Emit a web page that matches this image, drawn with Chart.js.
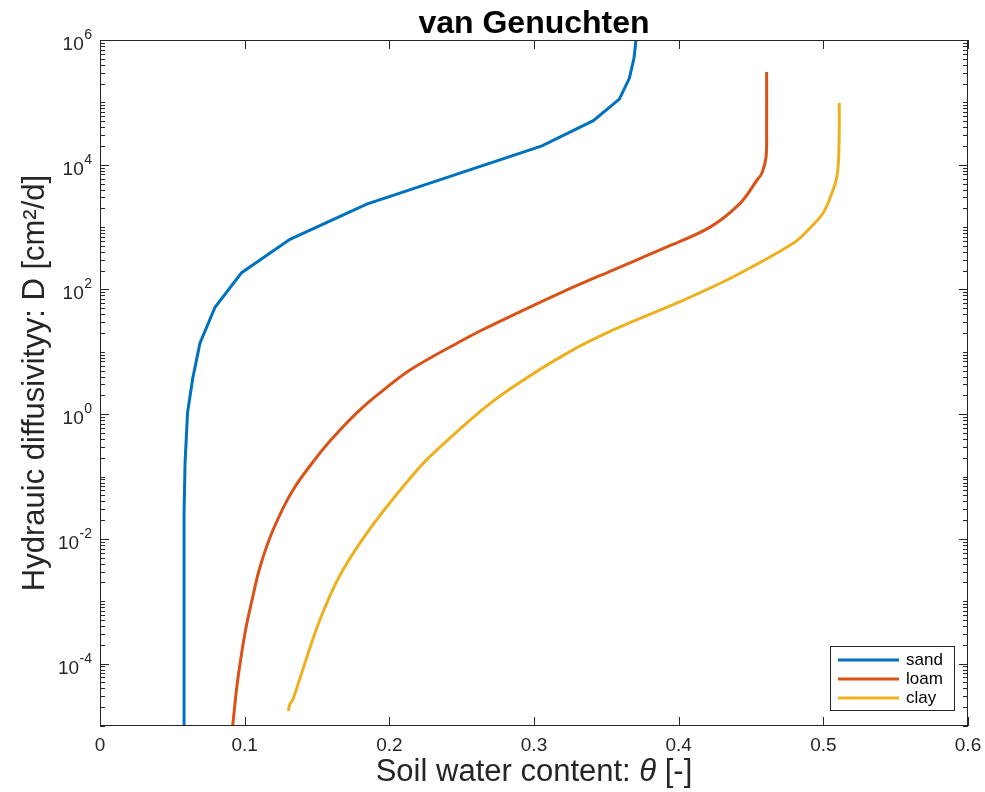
<!DOCTYPE html>
<html>
<head>
<meta charset="utf-8">
<title>van Genuchten</title>
<script src="https://cdn.jsdelivr.net/npm/chart.js@4.4.1/dist/chart.umd.min.js"></script>
<style>
	html, body { margin: 0; padding: 0; background: #fff; }
	#wrap { width: 985px; height: 792px; }
</style>
</head>
<body>
<div id="wrap"><canvas id="vgChart" width="985" height="792"></canvas></div>
<script>
// values
let sandTheta = [0.0581, 0.0581, 0.0581, 0.0588, 0.0605, 0.0641, 0.0691, 0.0795, 0.0979, 0.1313, 0.1844, 0.3055, 0.3410, 0.3590, 0.3659, 0.3691, 0.3705];
let sandD = [1e-5, 3.5e-4, 2.6e-2, 0.166, 1.05, 3.76, 13.7, 51.8, 186, 637, 2340, 2.0e4, 5.08e4, 1.13e5, 2.43e5, 5.09e5, 1e6];

let loamTheta = [0.0917, 0.0949, 0.1002, 0.1051, 0.1106, 0.1196, 0.1334, 0.1521, 0.1659, 0.1797, 0.1935, 0.2143, 0.2509, 0.2641, 0.2855, 0.3180, 0.3546, 0.3919, 0.4217, 0.4424, 0.4542, 0.4576, 0.4604, 0.4608, 0.4608];
let loamD = [1e-5, 4.84e-5, 3.07e-4, 1.05e-3, 3.55e-3, 1.39e-2, 6.1e-2, 0.239, 0.557, 1.17, 2.19, 5.11, 15.5, 22.4, 38.9, 87.7, 205, 480, 1000, 2400, 5690, 7360, 1.33e4, 3.61e4, 3.07e5];

let clayTheta = [0.1302, 0.1313, 0.1332, 0.1498, 0.1617, 0.1708, 0.1836, 0.1964, 0.2145, 0.2280, 0.2641, 0.2857, 0.3226, 0.3548, 0.4009, 0.4378, 0.4792, 0.4894, 0.4998, 0.5067, 0.5092, 0.5105, 0.5110, 0.5110];
let clayD = [1.74e-5, 2.25e-5, 2.61e-5, 3.69e-4, 1.69e-3, 4.11e-3, 1.16e-2, 2.91e-2, 9.48e-2, 0.208, 1.17, 2.76, 9.46, 22.4, 63.7, 160, 550, 897, 1680, 3940, 6140, 1.19e4, 3.61e4, 9.89e4];

let seriesNames = ['sand', 'loam', 'clay'];
let seriesColors = ['#0072BD', '#D95319', '#EDB120'];
let seriesTension = [0, 0.35, 0.35];

let xTicks = [0, 0.1, 0.2, 0.3, 0.4, 0.5, 0.6];
let yMajorTicks = [1e-4, 1e-2, 1e0, 1e2, 1e4, 1e6];
let yMin = 1e-5;
let yMax = 1e6;

let fontFamily = "'Liberation Sans', Arial, Helvetica, sans-serif";
let axisColor = '#262626';

function toPoints(xs, ys) {
	let pts = [];
	for (let i = 0; i < xs.length; i++) {
		pts.push({ x: xs[i], y: ys[i] });
	}
	return pts;
}

let allTheta = [sandTheta, loamTheta, clayTheta];
let allD = [sandD, loamD, clayD];

let datasets = seriesNames.map(function(name, i) {
	return {
		label: name,
		data: toPoints(allTheta[i], allD[i]),
		borderColor: seriesColors[i],
		backgroundColor: seriesColors[i],
		borderWidth: 3,
		pointRadius: 0,
		showLine: true,
		tension: seriesTension[i]
	};
});

// box, inward ticks, 10^n labels, x title and legend
let decorPlugin = {
	id: 'decor',
	afterDraw: function(chart) {
		let ctx = chart.ctx;
		let area = chart.chartArea;
		let xs = chart.scales.x;
		let ys = chart.scales.y;
		ctx.save();

		ctx.strokeStyle = axisColor;
		ctx.lineWidth = 1;
		ctx.strokeRect(area.left + 0.5, area.top + 0.5, area.right - area.left - 1, area.bottom - area.top - 1);

		// x ticks (bottom and top)
		ctx.beginPath();
		xTicks.forEach(function(v) {
			let px = Math.round(xs.getPixelForValue(v)) + 0.5;
			ctx.moveTo(px, area.bottom);
			ctx.lineTo(px, area.bottom - 9);
			ctx.moveTo(px, area.top);
			ctx.lineTo(px, area.top + 9);
		});

		// y ticks, major at labelled decades, minor elsewhere
		for (let e = -5; e < 6; e++) {
			for (let m = 1; m < 10; m++) {
				let v = m * Math.pow(10, e);
				if (v < yMin || v > yMax) continue;
				let major = (m === 1 && e % 2 === 0);
				let len = major ? 9 : 5;
				let py = Math.round(ys.getPixelForValue(v)) + 0.5;
				ctx.moveTo(area.left, py);
				ctx.lineTo(area.left + len, py);
				ctx.moveTo(area.right, py);
				ctx.lineTo(area.right - len, py);
			}
		}
		let pyTop = Math.round(ys.getPixelForValue(yMax)) + 0.5;
		ctx.moveTo(area.left, pyTop);
		ctx.lineTo(area.left + 9, pyTop);
		ctx.moveTo(area.right, pyTop);
		ctx.lineTo(area.right - 9, pyTop);
		ctx.stroke();

		// y tick labels with superscript exponent
		ctx.fillStyle = axisColor;
		ctx.textBaseline = 'alphabetic';
		yMajorTicks.forEach(function(v) {
			let py = ys.getPixelForValue(v);
			let expText = String(Math.round(Math.log10(v)));
			ctx.font = '14px ' + fontFamily;
			let expW = ctx.measureText(expText).width;
			let rightEdge = area.left - 8;
			ctx.textAlign = 'left';
			ctx.fillText(expText, rightEdge - expW, py - 1);
			ctx.font = '19px ' + fontFamily;
			ctx.textAlign = 'right';
			ctx.fillText('10', rightEdge - expW - 0.5, py + 10);
		});

		// x axis title with italic theta
		let partA = 'Soil water content: ';
		let partB = '\u03B8';
		let partC = ' [-]';
		let normalFont = '31px ' + fontFamily;
		let italicFont = 'italic 31px ' + fontFamily;
		ctx.font = normalFont;
		let wA = ctx.measureText(partA).width;
		let wC = ctx.measureText(partC).width;
		ctx.font = italicFont;
		let wB = ctx.measureText(partB).width;
		let startX = (area.left + area.right) / 2 - (wA + wB + wC) / 2;
		let baseY = 781;
		ctx.textAlign = 'left';
		ctx.font = normalFont;
		ctx.fillText(partA, startX, baseY);
		ctx.font = italicFont;
		ctx.fillText(partB, startX + wA, baseY);
		ctx.font = normalFont;
		ctx.fillText(partC, startX + wA + wB, baseY);

		// legend
		let lx = 830, ly = 646, lw = 124, lh = 64;
		ctx.fillStyle = '#fff';
		ctx.fillRect(lx, ly, lw, lh);
		ctx.strokeStyle = axisColor;
		ctx.lineWidth = 1;
		ctx.strokeRect(lx + 0.5, ly + 0.5, lw, lh);
		ctx.font = '17px ' + fontFamily;
		ctx.textBaseline = 'middle';
		ctx.textAlign = 'left';
		seriesNames.forEach(function(name, i) {
			let rowY = ly + 14 + i * 19;
			ctx.strokeStyle = seriesColors[i];
			ctx.lineWidth = 3;
			ctx.beginPath();
			ctx.moveTo(lx + 8, rowY);
			ctx.lineTo(lx + 69, rowY);
			ctx.stroke();
			ctx.fillStyle = '#000';
			ctx.fillText(name, lx + 76, rowY);
		});

		ctx.restore();
	}
};

document.addEventListener('DOMContentLoaded', function() {
	let canvas = document.getElementById('vgChart');

	new Chart(canvas, {
		type: 'scatter',
		data: { datasets: datasets },
		options: {
			responsive: false,
			animation: false,
			devicePixelRatio: 1,
			layout: { padding: { left: 0, right: 17, top: 0, bottom: 0 } },
			plugins: {
				legend: { display: false },
				tooltip: { enabled: false },
				title: {
					display: true,
					text: 'van Genuchten',
					fullSize: false,
					color: '#000',
					font: { family: fontFamily, size: 32, weight: 'bold', lineHeight: 1 },
					padding: { top: 8, bottom: 0 }
				}
			},
			scales: {
				x: {
					type: 'linear',
					min: 0,
					max: 0.6,
					afterFit: function(scale) {
						scale.height = 66;
						scale.paddingLeft = 0;
						scale.paddingRight = 0;
					},
					afterBuildTicks: function(scale) {
						scale.ticks = xTicks.map(function(v) { return { value: v }; });
					},
					grid: { display: false, drawTicks: false },
					border: { display: false },
					ticks: {
						color: axisColor,
						padding: 8,
						maxRotation: 0,
						autoSkip: false,
						font: { family: fontFamily, size: 19 },
						callback: function(v) { return v === 0 ? '0' : v.toFixed(1); }
					}
				},
				y: {
					type: 'logarithmic',
					min: yMin,
					max: yMax,
					afterFit: function(scale) {
						scale.width = 100;
						scale.paddingTop = 0;
						scale.paddingBottom = 0;
					},
					grid: { display: false, drawTicks: false },
					border: { display: false },
					ticks: { display: false },
					title: {
						display: true,
						text: 'Hydrauic diffusivityy: D [cm\u00B2/d]',
						color: axisColor,
						font: { family: fontFamily, size: 31, lineHeight: 1 },
						padding: { top: 20, bottom: 0 }
					}
				}
			}
		},
		plugins: [decorPlugin]
	});
});
</script>
</body>
</html>
